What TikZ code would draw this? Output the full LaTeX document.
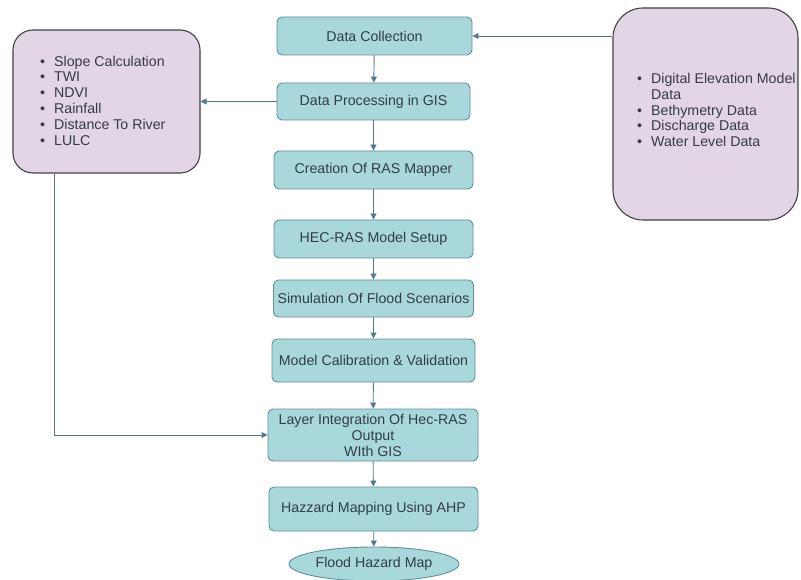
\documentclass[tikz,border=0pt]{standalone}
\usepackage{fontspec}
\setmainfont{Liberation Sans}
\usetikzlibrary{shapes.geometric,arrows.meta}
\definecolor{tealfill}{RGB}{168,216,219}
\definecolor{tealdraw}{RGB}{95,145,155}
\definecolor{purfill}{RGB}{226,213,230}
\definecolor{purdraw}{RGB}{65,65,70}
\definecolor{txt}{RGB}{50,60,70}
\definecolor{arr}{RGB}{85,120,140}
\tikzset{
  procbox/.style={draw=tealdraw, fill=tealfill, line width=0.9pt, rounded corners=5pt,
    inner sep=0pt, align=center, text=txt, font=\fontsize{14.2}{16}\selectfont},
  infobox/.style={draw=purdraw, fill=purfill, line width=1.1pt, inner sep=0pt},
  listtext/.style={inner sep=0pt, text=txt, font=\fontsize{14.2}{15.8}\selectfont, align=left},
  flow/.style={draw=arr, line width=0.9pt, -{Triangle[length=6pt,width=6pt]}},
  plain/.style={draw=arr, line width=0.9pt}
}
\begin{document}
\begin{tikzpicture}[x=1pt,y=-1pt]
\useasboundingbox (0,0) rectangle (801,580);
\fill[white] (0,0) rectangle (801,580);

% side boxes
\node[infobox, rounded corners=20pt, minimum width=187pt, minimum height=143pt] (lbox) at (106.5,101.5) {};
\node[listtext, anchor=west] (ltext) at (40,102.5) {%
\begin{tabular}{@{}l@{\hspace{9pt}}l@{}}
\textbullet & Slope Calculation\\
\textbullet & TWI\\
\textbullet & NDVI\\
\textbullet & Rainfall\\
\textbullet & Distance To River\\
\textbullet & LULC
\end{tabular}};

\node[infobox, rounded corners=30pt, minimum width=185pt, minimum height=212pt] (rbox) at (705.5,114) {};
\node[listtext, anchor=west] (rtext) at (637,112) {%
\begin{tabular}{@{}l@{\hspace{9pt}}l@{}}
\textbullet & Digital Elevation Model\\
 & Data\\
\textbullet & Bethymetry Data\\
\textbullet & Discharge Data\\
\textbullet & Water Level Data
\end{tabular}};

% process boxes
\node[procbox, minimum width=195pt, minimum height=38pt] (dc) at (374.5,36) {Data Collection};
\node[procbox, minimum width=193pt, minimum height=37pt] (dp) at (373.5,101.5) {Data Processing in GIS};
\node[procbox, minimum width=199pt, minimum height=38pt] (cr) at (373.5,170) {Creation Of RAS Mapper};
\node[procbox, minimum width=199pt, minimum height=38pt] (hs) at (373.5,239) {HEC-RAS Model Setup};
\node[procbox, minimum width=200pt, minimum height=37pt] (sf) at (373.5,298.5) {Simulation Of Flood Scenarios};
\node[procbox, minimum width=203pt, minimum height=43pt] (mc) at (373.5,360.5) {Model Calibration \& Validation};
\node[procbox, minimum width=210pt, minimum height=52pt] (li) at (373,435) {Layer Integration Of Hec-RAS\\Output\\WIth GIS};
\node[procbox, minimum width=209pt, minimum height=44pt] (hm) at (373.5,509) {Hazzard Mapping Using AHP};
\node[procbox, ellipse, rounded corners=0pt, minimum width=170pt, minimum height=34pt] (fm) at (374,564) {Flood Hazard Map};

% connectors
\draw[flow] (dc) -- (dp);
\draw[flow] (dp) -- (cr);
\draw[flow] (cr) -- (hs);
\draw[flow] (hs) -- (sf);
\draw[flow] (sf) -- (mc);
\draw[flow] (mc) -- (li);
\draw[flow] (li) -- (hm);
\draw[flow] (hm) -- (fm);
\draw[flow] (rbox.west |- dc.east) -- (dc.east);
\draw[flow] (dp.west) -- (lbox.east |- dp.west);
\coordinate (bend) at (54,435);
\draw[flow] (lbox.south -| bend) -- (bend) -- (li.west);
\end{tikzpicture}
\end{document}
